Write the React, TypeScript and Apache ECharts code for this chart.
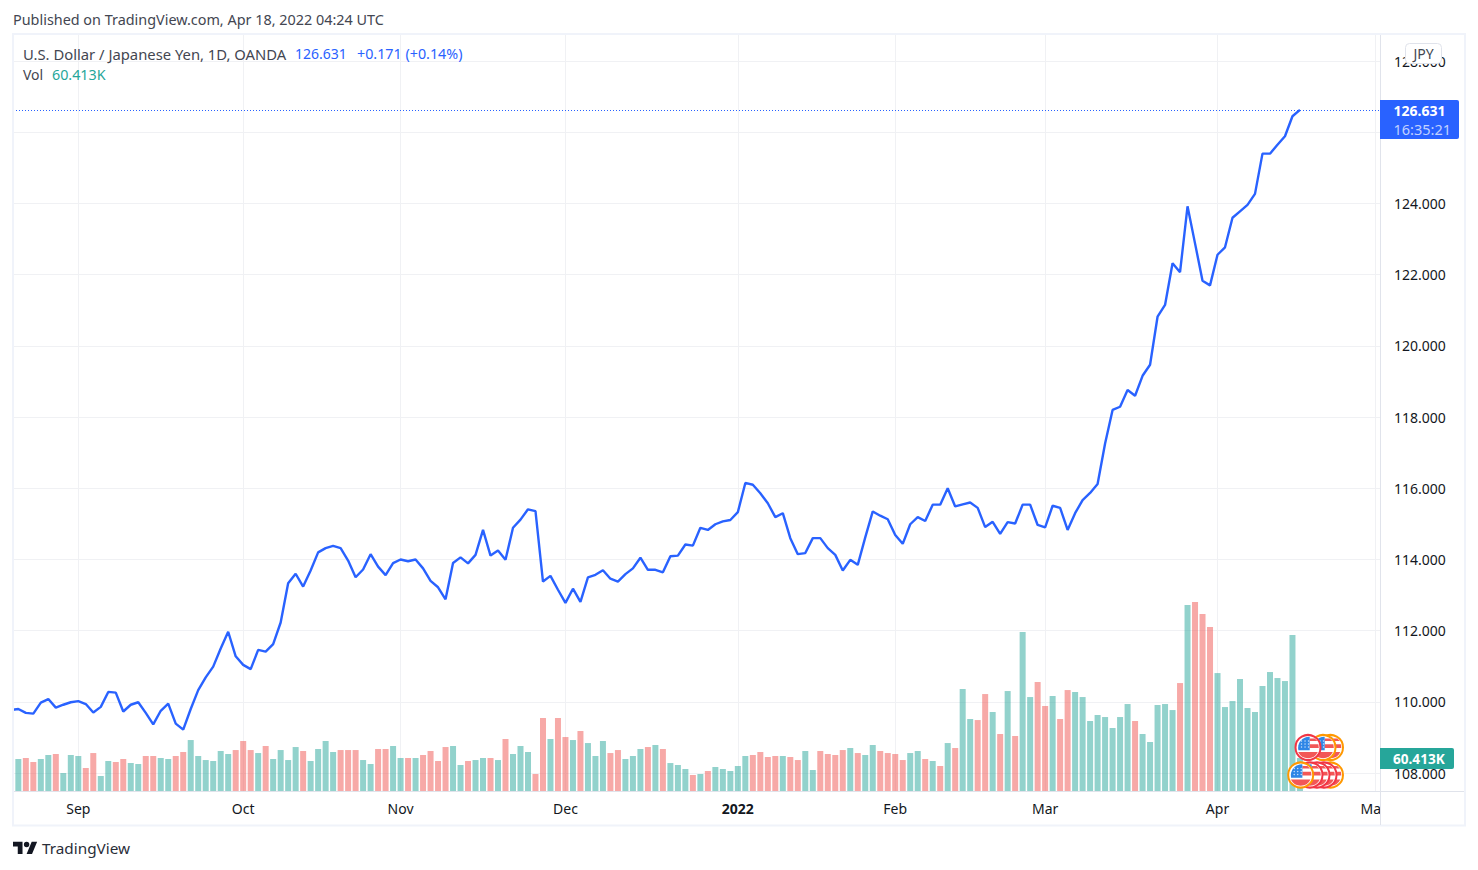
import React, { useEffect, useRef } from "react";
import * as echarts from "echarts";

// Session index: -1 is the partly visible first bar, 171 is the last one (Apr 18).
const firstSession = -1;
const axisMinSession = -0.7125;
const axisMaxSession = 181.68;

const closes = [
  109.77, 109.80, 109.69, 109.67, 109.98, 110.08, 109.84, 109.92, 109.99, 110.02,
  109.94, 109.70, 109.86, 110.28, 110.26, 109.73, 109.92, 109.99, 109.69, 109.37,
  109.75, 109.95, 109.39, 109.22, 109.80, 110.33, 110.69, 110.99, 111.50, 111.97,
  111.28, 111.04, 110.92, 111.46, 111.41, 111.62, 112.23, 113.33, 113.60, 113.24,
  113.69, 114.20, 114.32, 114.38, 114.32, 113.97, 113.50, 113.72, 114.15, 113.80,
  113.56, 113.90, 114.00, 113.95, 114.00, 113.75, 113.40, 113.22, 112.88, 113.90,
  114.06, 113.89, 114.13, 114.83, 114.11, 114.25, 113.99, 114.89, 115.12, 115.41,
  115.36, 113.38, 113.54, 113.15, 112.78, 113.18, 112.81, 113.50, 113.57, 113.70,
  113.46, 113.38, 113.59, 113.75, 114.05, 113.71, 113.71, 113.64, 114.09, 114.11,
  114.42, 114.39, 114.89, 114.83, 114.99, 115.07, 115.11, 115.33, 116.15, 116.10,
  115.86, 115.58, 115.19, 115.30, 114.60, 114.15, 114.18, 114.60, 114.60, 114.32,
  114.13, 113.69, 113.99, 113.85, 114.62, 115.35, 115.23, 115.13, 114.69, 114.44,
  114.99, 115.19, 115.08, 115.54, 115.54, 116.00, 115.49, 115.55, 115.60, 115.45,
  114.91, 115.06, 114.72, 115.05, 115.01, 115.54, 115.54, 114.97, 114.90, 115.51,
  115.45, 114.83, 115.30, 115.67, 115.87, 116.12, 117.26, 118.20, 118.29, 118.76,
  118.60, 119.16, 119.47, 120.82, 121.15, 122.32, 122.07, 123.92, 122.88, 121.83,
  121.70, 122.56, 122.77, 123.60, 123.78, 123.96, 124.27, 125.40, 125.40, 125.65,
  125.89, 126.45, 126.631,
];

const volumes = [
  82.4, 58.6, 60.4, 53.1, 58.6, 65.9, 67.7, 32.9, 65.9, 64.1,
  42.1, 69.5, 27.5, 54.9, 53.1, 58.6, 51.2, 49.4, 64.1, 64.1,
  60.4, 58.6, 64.1, 71.4, 93.3, 64.1, 56.7, 54.9, 73.2, 67.7,
  75.0, 91.5, 75.0, 69.5, 82.4, 58.6, 75.0, 56.7, 80.5, 73.2,
  54.9, 76.9, 91.5, 71.4, 75.0, 75.0, 75.0, 56.7, 49.4, 76.9,
  76.9, 82.4, 60.4, 60.4, 60.4, 65.9, 73.2, 54.9, 80.5, 82.4,
  47.6, 54.9, 56.7, 60.4, 60.4, 56.7, 95.2, 67.7, 82.4, 71.4,
  31.1, 133.6, 95.2, 133.6, 98.8, 93.3, 109.8, 87.8, 64.1, 91.5,
  69.5, 75.0, 58.6, 64.1, 76.9, 80.5, 84.2, 76.9, 51.2, 47.6,
  40.3, 29.3, 31.1, 36.6, 43.9, 40.3, 36.6, 45.8, 64.1, 65.9,
  71.4, 62.2, 64.1, 64.1, 62.2, 56.7, 73.2, 38.4, 73.2, 67.7,
  65.9, 75.0, 78.7, 69.5, 65.9, 84.2, 73.2, 69.5, 67.7, 56.7,
  69.5, 73.2, 58.6, 54.9, 45.8, 87.8, 78.7, 186.7, 131.8, 129.9,
  177.5, 144.6, 104.3, 183.0, 100.7, 291.0, 172.0, 199.5, 155.6, 173.9,
  131.8, 184.8, 181.2, 172.0, 128.1, 139.1, 135.4, 115.3, 135.4, 159.2,
  128.1, 104.3, 89.7, 157.4, 159.2, 148.2, 197.6, 340.4, 345.9, 323.9,
  300.1, 215.9, 153.7, 164.7, 205.0, 151.9, 144.6, 192.2, 217.8, 206.8,
  201.3, 285.5, 60.413,
];

// t = close up (teal), r = close down (red), one letter per bar.
const directions = (
  "r" +
  "trrttrtttr" + "rttrrttrrt" + "trrttttttr" + "rrtrttttrt" + "tttrrrttrr" +
  "ttrtrrrrtt" + "rttrtrtttr" + "rtrrtrtttr" + "rtttrtrttt" + "rtrtttttrr" +
  "rrtrrttrrr" + "rtrttrrrrt" + "trtrtrttrr" + "trtrttrrtr" + "rttttttttr" +
  "tttttrtrrr" + "tttttttttt" + "tt"
).split("");

const monthSessions = [8, 30, 51, 73, 96, 117, 137, 160, 181];
const monthLabels = ["Sep", "Oct", "Nov", "Dec", "2022", "Feb", "Mar", "Apr", "Ma"];
const priceTicks = [108, 110, 112, 114, 116, 118, 120, 122, 124, 126, 128];
const lastPrice = 126.631;
const lastVolumeLabel = "60.413K";

const FONT = "'Noto Sans', sans-serif";
const INK = "#131722";
const BLUE = "#2962ff";
const TEAL = "#26a69a";
const GRID = "#f0f1f4";
const FRAME = "#f0f3fa";
const SEP = "#e0e3eb";

const LOGO_D =
  "M14 25H7V14H0V7h14v18zM28 25h-8l7.5-18h8L28 25zM24 11a4 4 0 1 1-8 0a4 4 0 1 1 8 0z";
const CANTON_D = "M-9.6 2.7 L1.7 2.7 L1.7 -10.6 A10.8 10.8 0 0 0 -9.6 2.7 Z";
const STRIPE_TOP_D = "M1.7 -9 L6.8 -9 L9.4 -6.5 L1.7 -6.5 Z";
const STRIPE_MID_D = "M1.7 -3.3 L10.4 -3.3 L10.8 0.6 L1.7 0.6 Z";
const STRIPE_LOW_D = "M-9.8 4.4 L9.8 4.4 A10.8 10.8 0 0 1 -9.8 4.4 Z";

echarts.graphic.registerShape("logoShape", echarts.graphic.extendPath(LOGO_D as any, {}) as any);
echarts.graphic.registerShape("flagCanton", echarts.graphic.extendPath(CANTON_D as any, {}) as any);
echarts.graphic.registerShape("flagStripeTop", echarts.graphic.extendPath(STRIPE_TOP_D as any, {}) as any);
echarts.graphic.registerShape("flagStripeMid", echarts.graphic.extendPath(STRIPE_MID_D as any, {}) as any);
echarts.graphic.registerShape("flagStripeLow", echarts.graphic.extendPath(STRIPE_LOW_D as any, {}) as any);

function flag(x: number, y: number, ring: string, z: number) {
  const dots: any[] = [];
  [-6.5, -3, 0.5].forEach((dx) =>
    [-6.5, -3.5, -0.5].forEach((dy) =>
      dots.push({
        type: "circle",
        shape: { cx: dx, cy: dy, r: 0.7 },
        style: { fill: "#cfe3fb" },
        z,
      })
    )
  );
  return {
    type: "group",
    x,
    y,
    silent: true,
    children: [
      { type: "circle", shape: { cx: 0, cy: 0, r: 12.5 }, style: { fill: "#fff", stroke: ring, lineWidth: 2 }, z },
      { type: "flagStripeTop", style: { fill: "#f25757" }, z },
      { type: "flagStripeMid", style: { fill: "#f25757" }, z },
      { type: "flagStripeLow", style: { fill: "#f25757" }, z },
      { type: "flagCanton", style: { fill: "#2f86e6" }, z },
      ...dots,
    ],
  };
}

const TEXT = (text: string, x: number, y: number, fill: string, extra: any = {}) => ({
  type: "text",
  x,
  y,
  silent: true,
  z: extra.z ?? 60,
  style: {
    text,
    fill,
    font: `${extra.weight ?? "normal"} ${extra.size ?? 14}px ${FONT}`,
    textVerticalAlign: "middle",
    textAlign: extra.align ?? "left",
    opacity: extra.opacity ?? 1,
  },
});

export default function App() {
  const ref = useRef<HTMLDivElement>(null);

  useEffect(() => {
    const chart = echarts.init(ref.current!, undefined, { renderer: "svg" });
    const xTo = (k: number) => firstSession + k;

    chart.setOption({
      animation: false,
      backgroundColor: "#ffffff",
      grid: {
        left: 13,
        top: 35,
        width: 1367,
        height: 756,
        containLabel: false,
        outerBoundsMode: "none",
      },
      xAxis: {
        type: "value",
        min: axisMinSession,
        max: axisMaxSession,
        axisLine: { show: false },
        axisTick: { show: false, customValues: monthSessions },
        splitLine: { show: true, lineStyle: { color: GRID, width: 1 } },
        axisLabel: {
          customValues: monthSessions,
          margin: 10,
          color: INK,
          fontFamily: FONT,
          fontSize: 14,
          hideOverlap: false,
          showMinLabel: true,
          showMaxLabel: true,
          formatter: (v: number) => {
            const label = monthLabels[monthSessions.indexOf(v)] ?? "";
            if (label === "2022") return `{b|${label}}`;
            if (label === "Ma") return `{e|${label}}`;
            return label;
          },
          rich: {
            b: { fontWeight: "bold", fontSize: 14, fontFamily: FONT, color: INK },
            e: { padding: [0, 8, 0, 0], fontSize: 14, fontFamily: FONT, color: INK },
          },
        },
      },
      yAxis: [
        {
          type: "value",
          position: "right",
          min: 107.497,
          max: 128.733,
          axisLine: { show: false },
          axisTick: { show: false, customValues: priceTicks },
          splitLine: { show: true, lineStyle: { color: GRID, width: 1 } },
          axisLabel: {
            customValues: priceTicks,
            margin: 14,
            color: INK,
            fontFamily: FONT,
            fontSize: 14,
            showMinLabel: true,
            showMaxLabel: true,
            formatter: (v: number) => v.toFixed(3),
          },
        },
        {
          type: "value",
          position: "left",
          min: 0,
          max: 1384,
          show: false,
          splitLine: { show: false },
        },
      ],
      series: [
        {
          name: "Vol",
          type: "bar",
          xAxisIndex: 0,
          yAxisIndex: 1,
          barWidth: 6,
          clip: true,
          z: 2,
          data: volumes.map((v, k) => ({
            value: [xTo(k), v],
            itemStyle: {
              color: directions[k] === "t" ? "rgba(38,166,154,0.5)" : "rgba(239,83,80,0.5)",
            },
          })),
        },
        {
          name: "USD/JPY",
          type: "line",
          xAxisIndex: 0,
          yAxisIndex: 0,
          z: 3,
          symbol: "none",
          smooth: false,
          itemStyle: { color: BLUE },
          lineStyle: { color: BLUE, width: 2.4 },
          data: closes.map((c, k) => [xTo(k), c]),
          markLine: {
            silent: true,
            symbol: "none",
            label: { show: false },
            itemStyle: { color: BLUE },
            lineStyle: { color: BLUE, width: 1, type: [1, 2], opacity: 1 },
            data: [
              {
                yAxis: lastPrice,
                lineStyle: { color: BLUE, width: 1, type: [1, 2], opacity: 1 },
              },
            ],
          },
        },
      ],
      graphic: {
        elements: [
          {
            type: "rect",
            silent: true,
            shape: { x: 0, y: 700, width: 13, height: 100 },
            style: { fill: "#ffffff" },
            z: 49,
          },
          {
            type: "rect",
            silent: true,
            shape: { x: 13, y: 34, width: 1452, height: 791.5 },
            style: { fill: "none", stroke: FRAME, lineWidth: 2 },
            z: 50,
          },
          {
            type: "line",
            silent: true,
            shape: { x1: 1380.5, y1: 35, x2: 1380.5, y2: 825 },
            style: { stroke: SEP, lineWidth: 1 },
            z: 51,
          },
          {
            type: "line",
            silent: true,
            shape: { x1: 14, y1: 791.5, x2: 1464, y2: 791.5 },
            style: { stroke: SEP, lineWidth: 1 },
            z: 51,
          },
          TEXT("Published on TradingView.com, Apr 18, 2022 04:24 UTC", 13, 19.5, "#434651", { size: 14.4 }),
          TEXT("U.S. Dollar / Japanese Yen, 1D, OANDA", 23, 53.5, "#434651", { size: 14.8 }),
          TEXT("126.631", 295, 53.5, BLUE),
          TEXT("+0.171 (+0.14%)", 357, 53.5, BLUE, { size: 14.3 }),
          TEXT("Vol", 23, 74.5, "#434651"),
          TEXT(lastVolumeLabel, 52, 74.5, TEAL, { size: 14.3 }),
          {
            type: "rect",
            silent: true,
            shape: { x: 1405.5, y: 43.5, width: 36, height: 20, r: 4 },
            style: { fill: "#ffffff", stroke: SEP, lineWidth: 1 },
            z: 70,
          },
          TEXT("JPY", 1423.5, 53, "#434651", { align: "center", z: 71 }),
          {
            type: "rect",
            silent: true,
            shape: { x: 1380, y: 100, width: 79, height: 39, r: [0, 2, 2, 0] },
            style: { fill: BLUE },
            z: 70,
          },
          TEXT(lastPrice.toFixed(3), 1393.5, 110.5, "#ffffff", { weight: "bold", z: 71 }),
          TEXT("16:35:21", 1393.5, 128.5, "#ffffff", { opacity: 0.72, size: 14.5, z: 71 }),
          {
            type: "rect",
            silent: true,
            shape: { x: 1380, y: 748, width: 74, height: 21, r: [0, 2, 2, 0] },
            style: { fill: TEAL },
            z: 70,
          },
          TEXT(lastVolumeLabel, 1393, 758.5, "#ffffff", { weight: "bold", size: 13.6, z: 71 }),
          flag(1330.5, 747.5, "#ff9800", 72),
          flag(1323, 747.5, "#ff9800", 73),
          flag(1308, 747.5, "#f23645", 74),
          flag(1330.5, 775, "#ff9800", 72),
          flag(1324, 775, "#f23645", 73),
          flag(1317, 775, "#f23645", 74),
          flag(1310, 775, "#f23645", 75),
          flag(1300.7, 775, "#ff9800", 76),
          {
            type: "logoShape",
            silent: true,
            x: 13,
            y: 837,
            scaleX: 0.68,
            scaleY: 0.68,
            style: { fill: INK },
            z: 60,
          },
          TEXT("TradingView", 42, 847.5, "#2a2e39", { size: 15.3 }),
        ],
      },
    });

    return () => chart.dispose();
  }, []);

  return (
    <div
      ref={ref}
      style={{ position: "absolute", left: 0, top: 0, width: 1478, height: 870 }}
    />
  );
}
